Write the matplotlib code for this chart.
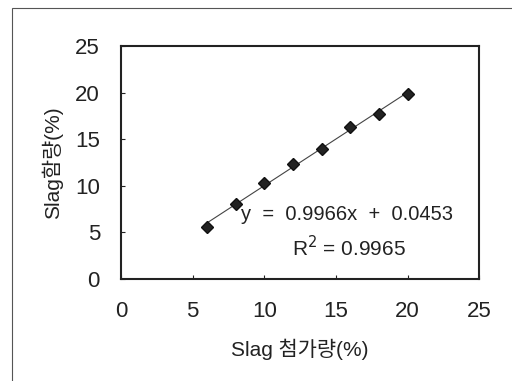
import numpy as np
import matplotlib
matplotlib.use("Agg")
from matplotlib import pyplot as plt
from matplotlib.patches import Rectangle

plt.rcParams['font.family'] = ['Liberation Sans', 'Noto Sans CJK KR', 'DejaVu Sans']

# data
slag_added = [6, 8, 10, 12, 14, 16, 18, 20]
slag_content = [5.6, 8.0, 10.3, 12.3, 14.0, 16.3, 17.7, 19.9]
ticks = [0, 5, 10, 15, 20, 25]

fit_eq = "y  =  0.9966x  +  0.0453"
fit_r2 = "R$^2$ = 0.9965"

fig = plt.figure(figsize=(5.12, 3.81), dpi=100)
ax = fig.add_axes([0.236, 0.268, 0.700, 0.611])

# outer chart border (runs off the right and bottom edge)
fig.patches.append(Rectangle((12 / 512, -0.1), 1.2, 1 - 8 / 381 + 0.1,
                             transform=fig.transFigure, fill=False,
                             edgecolor='#555555', linewidth=0.8))

# trend line
coef = np.polyfit(slag_added, slag_content, 1)
xs = np.array([slag_added[0], slag_added[-1]])
ax.plot(xs, np.polyval(coef, xs), color='#444444', linewidth=0.8, zorder=2)

ax.plot(slag_added, slag_content, linestyle='none', marker='D', markersize=6,
        color='#222222', markeredgecolor='#111111', zorder=3)

ax.set_xlim(0, 25)
ax.set_ylim(0, 25)
ax.set_xticks(ticks)
ax.set_yticks(ticks)
ax.tick_params(direction='in', length=3, width=0.8, labelsize=16, colors='#222222')
ax.tick_params(axis='x', pad=16)
ax.tick_params(axis='y', pad=15)
for s in ax.spines.values():
    s.set_linewidth(1.5)
    s.set_color('#222222')

ax.text(15.8, 6.95, fit_eq, fontsize=14.5, ha='center', va='center', color='#222222')
ax.text(15.9, 3.4, fit_r2, fontsize=15, ha='center', va='center', color='#222222')

ax.set_xlabel('Slag 첨가량(%)', fontsize=15, labelpad=12, color='#222222')
ax.set_ylabel('Slag함량(%)', fontsize=15, labelpad=9, color='#222222')

fig.savefig('out.png', dpi=100)
